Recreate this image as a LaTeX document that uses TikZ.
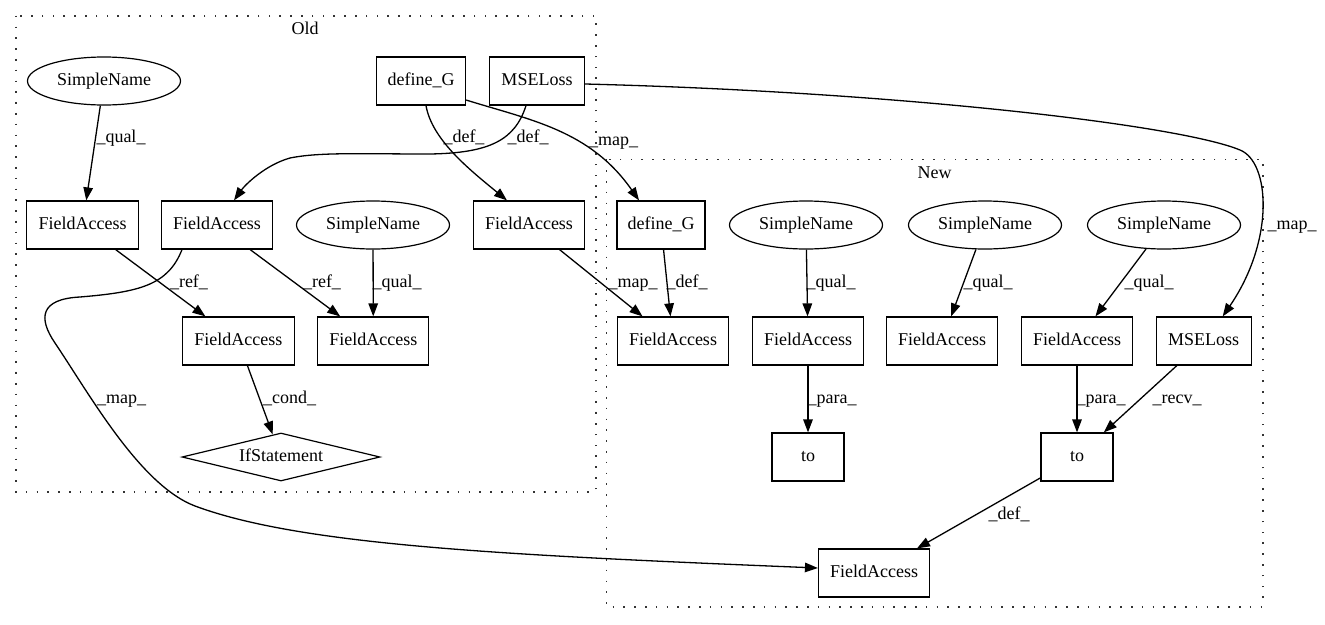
\documentclass[tikz,border=0pt]{standalone}
\usepackage{fontspec}
\setmainfont{Liberation Serif}
\usetikzlibrary{shapes.geometric,arrows.meta,calc}
\begin{document}
\begin{tikzpicture}[x=1pt,y=-1pt,
  every node/.style={font=\fontsize{18}{20}\selectfont, inner sep=0pt, text height=12.5pt, text depth=4pt},
  box/.style={draw, line width=1.2pt, rectangle, minimum height=48pt},
  ell/.style={draw, line width=1.2pt, ellipse, minimum width=153pt, minimum height=48pt},
  dia/.style={draw, line width=1.2pt, diamond, shape aspect=4.1, minimum width=198pt, minimum height=48pt},
  edge/.style={draw, line width=1.3pt, -{Triangle[length=13pt,width=9.5pt]}},
  cluster/.style={draw, black!80, line width=1.6pt, dash pattern=on 1.6pt off 9.2pt}
]
\useasboundingbox[fill=white] (0,0) rectangle (1325,624);

% clusters
\draw[cluster] (15.8,15.7) rectangle (595.8,491.7);
\node (oldlbl) at (305,30) {Old};
\draw[cluster] (606.4,159.3) rectangle (1262.7,606.7);
\node (newlbl) at (934.5,174) {New};

% Old nodes
\node[ell] (o_sn1) at (104,81) {SimpleName};
\node[box, minimum width=89pt] (o_defG) at (421,81) {define\_G};
\node[box, minimum width=95pt] (o_mse) at (537,81) {MSELoss};
\node[box, minimum width=111.5pt] (o_faA) at (82.6,225) {FieldAccess};
\node[box, minimum width=111pt] (o_faB) at (217,225) {FieldAccess};
\node[ell] (o_sn2) at (373,225) {SimpleName};
\node[box, minimum width=111pt] (o_faC) at (529,225) {FieldAccess};
\node[box, minimum width=111.5pt] (o_faD) at (238.4,341) {FieldAccess};
\node[box, minimum width=111pt] (o_faE) at (373.3,341) {FieldAccess};
\node[dia] (o_if) at (281,457) {IfStatement};

% New nodes
\node[box, minimum width=88pt] (n_defG) at (661,225) {define\_G};
\node[ell] (n_sn3) at (806,225) {SimpleName};
\node[ell] (n_sn4) at (985,225) {SimpleName};
\node[ell] (n_sn5) at (1164,225) {SimpleName};
\node[box, minimum width=111.5pt] (n_faF) at (673,341) {FieldAccess};
\node[box, minimum width=111pt] (n_faG) at (808,341) {FieldAccess};
\node[box, minimum width=111pt] (n_faH) at (942,341) {FieldAccess};
\node[box, minimum width=111pt] (n_faI) at (1077,341) {FieldAccess};
\node[box, minimum width=95pt] (n_mse) at (1203.7,341) {MSELoss};
\node[box, minimum width=72pt] (n_to1) at (808,457) {to};
\node[box, minimum width=72pt] (n_to2) at (1077,457) {to};
\node[box, minimum width=111pt] (n_faJ) at (874,573) {FieldAccess};

% Old edges
\draw[edge] (o_sn1) -- (o_faA);
\node (l_q1) at (121,138) {\_qual\_};

\draw[edge] ($(o_mse.south)+(-11,0)$) .. controls (515,140) and (490,153) .. (430,154)
  .. controls (360,154) and (320,152) .. (290,158)
  .. controls (265,165) and (245,185) .. ($(o_faB.north)+(17,0)$);
\node (l_d1) at (528,138) {\_def\_};

\draw[edge] ($(o_defG.south)+(5,0)$) .. controls (432,140) and (470,170) .. ($(o_faC.north)+(-22,0)$);
\node (l_d2) at (464,138) {\_def\_};

\draw[edge] ($(o_defG.east)+(0,19)$) .. controls (530,120) and (590,130) .. ($(n_defG.north)+(-22,0)$);
\node (l_m1) at (613.5,141) {\_map\_};

\draw[edge] ($(o_mse.east)+(0,3)$) .. controls (900,92) and (1180,125) .. (1240,150)
  .. controls (1270,162) and (1275,240) .. ($(n_mse.north)+(19,0)$);
\node (l_m2) at (1292,225) {\_map\_};

\draw[edge] (o_faA) -- (o_faD);
\node (l_r1) at (189,283) {\_ref\_};
\draw[edge] (o_faB) -- (o_faE);
\node (l_r2) at (322,283) {\_ref\_};
\draw[edge] (o_sn2) -- (o_faE);
\node (l_q2) at (397,283) {\_qual\_};

\draw[edge] ($(o_faB.south)+(-35,0)$) .. controls (168,285) and (140,292) .. (80,297)
  .. controls (40,299) and (38,318) .. (55,343)
  .. controls (90,395) and (140,485) .. (195,506)
  .. controls (300,545) and (500,555) .. ($(n_faJ.west)+(0,-5)$);
\node (l_m3) at (121.5,399) {\_map\_};

\draw[edge] (o_faD) -- (o_if);
\node (l_c1) at (289.5,399) {\_cond\_};

\draw[edge] (o_faC) -- (n_faF);
\node (l_m4) at (633,283) {\_map\_};

% New edges
\draw[edge] (n_defG) -- (n_faF);
\node (l_d3) at (687,283) {\_def\_};
\draw[edge] (n_sn3) -- (n_faG);
\node (l_q3) at (831,283) {\_qual\_};
\draw[edge] (n_sn4) -- (n_faH);
\node (l_q4) at (988,283) {\_qual\_};
\draw[edge] (n_sn5) -- (n_faI);
\node (l_q5) at (1149,283) {\_qual\_};
\draw[edge] (n_faG) -- (n_to1);
\node (l_p1) at (832,399) {\_para\_};
\draw[edge] (n_faI) -- (n_to2);
\node (l_p2) at (1101,399) {\_para\_};
\draw[edge] (n_mse) -- (n_to2);
\node (l_rv) at (1177,399) {\_recv\_};
\draw[edge] (n_to2) -- (n_faJ);
\node (l_d4) at (1009,515) {\_def\_};
\end{tikzpicture}
\end{document}
